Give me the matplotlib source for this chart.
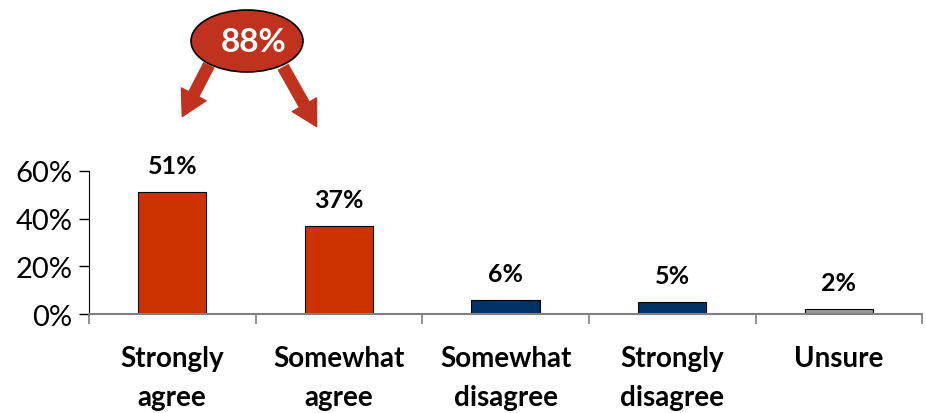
import matplotlib
matplotlib.use("Agg")
import matplotlib.pyplot as plt
from matplotlib.patches import Ellipse, FancyArrowPatch

categories = ["Strongly\nagree", "Somewhat\nagree", "Somewhat\ndisagree", "Strongly\ndisagree", "Unsure"]
values = [0.51, 0.37, 0.06, 0.05, 0.02]
labels = ["51%", "37%", "6%", "5%", "2%"]
colors = ["#CC3300", "#CC3300", "#003366", "#003366", "#999999"]
yticks = [0, 0.2, 0.4, 0.6]
ytick_labels = ["0%", "20%", "40%", "60%"]
callout = "88%"

plt.rcParams['font.family'] = ['Lato', 'DejaVu Sans']

fig = plt.figure(figsize=(9.26, 4.14), dpi=100)
ax = fig.add_axes([0.096, 0.239, 0.9, 0.346])
x = list(range(len(categories)))
ax.bar(x, values, width=0.41, color=colors, edgecolor="black", linewidth=0.8, zorder=3)
for xi, v, l in zip(x, values, labels):
    ax.text(xi, v + 0.063, l, ha="center", va="bottom", fontsize=18, fontweight="bold", color="black")

ax.set_xlim(-0.5, len(categories) - 0.5)
ax.set_ylim(0, 0.6)
ax.set_yticks(yticks)
ax.set_yticklabels(ytick_labels, fontsize=21)
ax.set_xticks([i + 0.5 for i in range(-1, len(categories))], minor=False)
ax.set_xticklabels([])
ax.tick_params(axis="x", direction="out", length=7, color="#808080", width=1.2)
ax.tick_params(axis="y", direction="out", length=7, color="black", width=1, pad=5)
for xi, c in zip(x, categories):
    ax.text(xi, -0.13, c, ha="center", va="top", fontsize=20, fontweight="bold",
            linespacing=1.6, transform=ax.transData, clip_on=False)
ax.spines["top"].set_visible(False)
ax.spines["right"].set_visible(False)
ax.spines["bottom"].set_color("#808080")
ax.spines["bottom"].set_linewidth(1.5)
ax.spines["bottom"].set_zorder(4)
ax.spines["left"].set_color("black")

# callout
W, H = 926, 414
def fx(px):
    return px / W
def fy(py):
    return 1 - py / H
red = "#C0321E"
for (x0, y0, x1, y1) in [(210, 64, 181, 120), (282, 66, 318, 130)]:
    arr = FancyArrowPatch((fx(x0), fy(y0)), (fx(x1), fy(y1)), transform=fig.transFigure,
                          arrowstyle="simple,head_width=1.0,head_length=0.9,tail_width=0.4",
                          mutation_scale=20, color=red, zorder=2)
    fig.patches.append(arr)
ell = Ellipse((fx(247), fy(42)), width=112 / W, height=62 / H, transform=fig.transFigure,
              facecolor=red, edgecolor="black", linewidth=1.2, zorder=3)
fig.patches.append(ell)
fig.text(fx(254), fy(42), callout, ha="center", va="center", fontsize=24, fontweight="bold",
         color="white", zorder=4)

fig.savefig("out.png", dpi=100)
